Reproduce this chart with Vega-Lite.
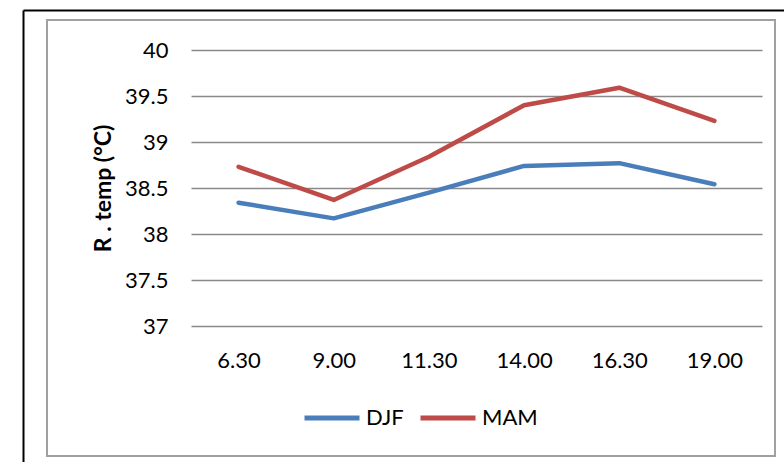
{
  "$schema": "https://vega.github.io/schema/vega-lite/v6.json",
  "width": 728,
  "height": 436,
  "autosize": {"type": "none"},
  "padding": {"left": 47, "top": 20, "right": 9, "bottom": 6},
  "background": "white",
  "config": {
    "font": "Lato",
    "view": {"stroke": "#a0a0a0", "strokeWidth": 2}
  },
  "data": {
    "values": [
      {"time": "6.30", "season": "DJF", "temp": 38.34},
      {"time": "9.00", "season": "DJF", "temp": 38.17},
      {"time": "11.30", "season": "DJF", "temp": 38.45},
      {"time": "14.00", "season": "DJF", "temp": 38.74},
      {"time": "16.30", "season": "DJF", "temp": 38.77},
      {"time": "19.00", "season": "DJF", "temp": 38.54},
      {"time": "6.30", "season": "MAM", "temp": 38.73},
      {"time": "9.00", "season": "MAM", "temp": 38.37},
      {"time": "11.30", "season": "MAM", "temp": 38.84},
      {"time": "14.00", "season": "MAM", "temp": 39.4},
      {"time": "16.30", "season": "MAM", "temp": 39.59},
      {"time": "19.00", "season": "MAM", "temp": 39.23}
    ]
  },
  "layer": [
    {
      "mark": {"type": "line", "strokeWidth": 4.5, "strokeCap": "round", "strokeJoin": "round"},
      "encoding": {
        "x": {
          "field": "time",
          "type": "ordinal",
          "sort": null,
          "scale": {"type": "point", "padding": 0.5, "range": [144, 715]},
          "axis": {
            "title": null,
            "orient": "bottom",
            "offset": -130,
            "domain": false,
            "ticks": false,
            "grid": false,
            "labelAngle": 0,
            "labelFontSize": 22,
            "labelColor": "#000000",
            "labelPadding": 24
          }
        },
        "y": {
          "field": "temp",
          "type": "quantitative",
          "scale": {"domain": [37, 40], "range": [306, 30], "zero": false, "nice": false},
          "axis": {
            "title": "R . temp (°C)",
            "orient": "left",
            "offset": -144,
            "values": [37, 37.5, 38, 38.5, 39, 39.5, 40],
            "format": "~g",
            "domain": false,
            "ticks": false,
            "grid": true,
            "gridColor": "#898989",
            "gridWidth": 1.5,
            "labelFontSize": 22,
            "labelColor": "#000000",
            "labelPadding": 23,
            "titleFontSize": 23,
            "titleFontWeight": "bold",
            "titleColor": "#000000",
            "titlePadding": 9
          }
        },
        "color": {
          "field": "season",
          "type": "nominal",
          "scale": {"domain": ["DJF", "MAM"], "range": ["#4A7EBB", "#BE4B48"]},
          "legend": {
            "title": null,
            "orient": "none",
            "legendX": 255,
            "legendY": 368,
            "direction": "horizontal",
            "padding": 0,
            "symbolType": "stroke",
            "symbolSize": 3025,
            "symbolStrokeWidth": 5,
            "labelFontSize": 22,
            "labelColor": "#000000",
            "labelOffset": 4,
            "columnPadding": 6
          }
        }
      }
    },
    {
      "description": "Outer page frame: only the axis domain lines of this layer are visible.",
      "mark": {"type": "point", "opacity": 0},
      "encoding": {
        "x": {
          "field": "time",
          "type": "ordinal",
          "sort": null,
          "scale": {"type": "point", "range": [-24, 780]},
          "axis": {
            "orient": "top",
            "offset": 10,
            "title": null,
            "labels": false,
            "ticks": false,
            "grid": false,
            "domain": true,
            "domainColor": "#000000",
            "domainWidth": 2
          }
        },
        "y": {
          "field": "temp",
          "type": "quantitative",
          "scale": {"domain": [37, 40], "range": [480, -10], "zero": false, "nice": false},
          "axis": {
            "orient": "left",
            "offset": 24,
            "title": null,
            "labels": false,
            "ticks": false,
            "grid": false,
            "domain": true,
            "domainColor": "#000000",
            "domainWidth": 2
          }
        }
      }
    }
  ],
  "resolve": {
    "scale": {"x": "independent", "y": "independent"},
    "axis": {"x": "independent", "y": "independent"}
  }
}
